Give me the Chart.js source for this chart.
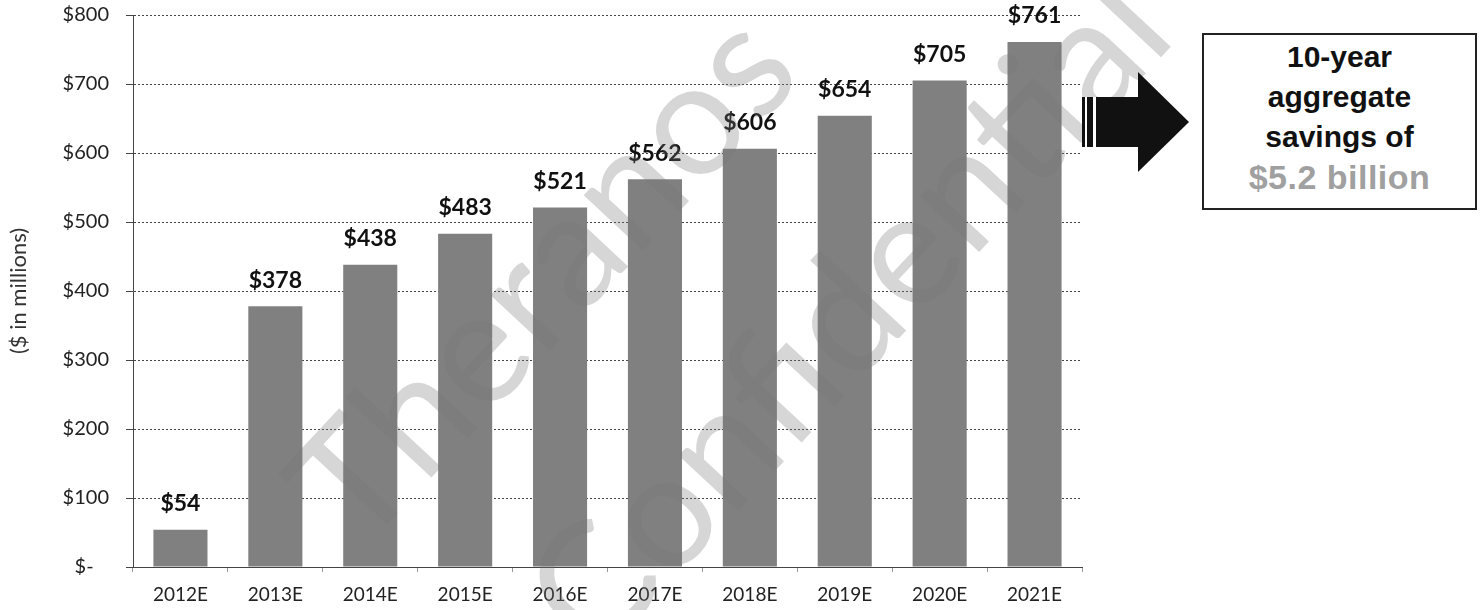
<!DOCTYPE html>
<html>
<head>
<meta charset="utf-8">
<script src="https://cdn.jsdelivr.net/npm/chart.js@4.4.1/dist/chart.umd.min.js"></script>
<style>
  body { margin: 0; background: #fff; }
  #wrap { position: relative; width: 1483px; height: 610px; }
  #savings-box {
    position: absolute; left: 1202px; top: 33px; width: 275px; height: 177px;
    box-sizing: border-box; border: 2px solid #222; background: #fff;
    font-family: "Liberation Sans", Arial, sans-serif; font-weight: bold;
    font-size: 30px; line-height: 40px; text-align: center; color: #111;
    padding-top: 2px;
  }
  #savings-box .total { color: #a0a0a0; font-size: 34px; letter-spacing: 0.5px; }
  #arrow { position: absolute; left: 0; top: 0; pointer-events: none; }
</style>
</head>
<body>
<div id="wrap">
  <canvas id="my-chart" width="1483" height="610"></canvas>
  <svg id="arrow" width="1483" height="610">
    <rect x="1082" y="97" width="57" height="50" fill="#111"></rect>
    <polygon points="1138,72 1189,122 1138,172" fill="#111"></polygon>
    <rect x="1085" y="97" width="2" height="50" fill="#fff"></rect>
    <rect x="1093" y="97" width="3" height="50" fill="#fff"></rect>
  </svg>
  <div id="savings-box">10-year<br>aggregate<br>savings of<br><span class="total">$5.2 billion</span></div>
</div>
<script>
const years = ["2012E", "2013E", "2014E", "2015E", "2016E", "2017E", "2018E", "2019E", "2020E", "2021E"];
const savings = [54, 378, 438, 483, 521, 562, 606, 654, 705, 761];
const yTicks = [0, 100, 200, 300, 400, 500, 600, 700, 800];
const watermarkWords = ["Theranos", "Confidential"];

function formatDollars(value) {
  // accounting style: zero shows as "$-"
  return value === 0 ? "$-   " : "$" + value;
}

const valueLabels = {
  id: "valueLabels",
  afterDatasetsDraw(chart) {
    const ctx = chart.ctx;
    const meta = chart.getDatasetMeta(0);
    ctx.save();
    ctx.font = "bold 23px Lato";
    ctx.fillStyle = "#111";
    ctx.textAlign = "center";
    ctx.textBaseline = "middle";
    meta.data.forEach((bar, i) => {
      ctx.fillText(formatDollars(savings[i]), bar.x, bar.y - 26);
    });
    ctx.restore();
  }
};

const watermark = {
  id: "watermark",
  afterDraw(chart) {
    const ctx = chart.ctx;
    ctx.save();
    ctx.font = "160px Lato";
    ctx.fillStyle = "rgba(120, 120, 120, 0.3)";
    ctx.textAlign = "center";
    ctx.textBaseline = "middle";
    const spots = [[545, 280], [850, 315]];
    watermarkWords.forEach((word, i) => {
      ctx.save();
      ctx.translate(spots[i][0], spots[i][1]);
      ctx.rotate(-47 * Math.PI / 180);
      ctx.fillText(word, 0, 0);
      ctx.restore();
    });
    ctx.restore();
  }
};

function printTheChart() {
  const ctx = document.getElementById("my-chart").getContext("2d");
  const chart = new Chart(ctx, {
    type: "bar",
    data: {
      labels: years,
      datasets: [
        {
          label: "Savings",
          backgroundColor: "#808080",
          data: savings,
          barPercentage: 0.57,
          categoryPercentage: 1,
        },
      ],
    },
    options: {
      responsive: false,
      animation: false,
      layout: { padding: { top: 0, right: 401, left: 0, bottom: 0 } },
      plugins: {
        legend: { display: false },
        tooltip: { enabled: false },
      },
      scales: {
        x: {
          offset: true,
          grid: {
            offset: true,
            drawOnChartArea: false,
            tickLength: 5,
            color: "#999",
          },
          border: { display: true, color: "#444", dash: [2, 2] },
          ticks: { color: "#222", font: { family: "Lato", size: 19 }, padding: 11 },
          afterFit(scale) { scale.height = 43; },
        },
        y: {
          min: 0,
          max: 800,
          afterBuildTicks(scale) { scale.ticks = yTicks.map((v) => ({ value: v })); },
          grid: { color: "#444", tickLength: 7 },
          border: { display: true, color: "#444", dash: [2, 2] },
          ticks: {
            color: "#222",
            font: { family: "Lato", size: 20 },
            padding: 17,
            callback: (value) => formatDollars(value),
          },
          title: {
            display: true,
            text: "($ in millions)",
            color: "#333",
            font: { family: "Lato", size: 22 },
            padding: { top: 6, bottom: 0 },
          },
          afterFit(scale) {
            scale.width = 133;
            scale.paddingTop = 15;
            scale.paddingBottom = 0;
          },
        },
      },
    },
    plugins: [valueLabels, watermark],
  });
  // dotted gridlines
  chart.options.scales.y.grid.borderDash = [2, 2];
  chart.update();
}

printTheChart();
</script>
</body>
</html>
